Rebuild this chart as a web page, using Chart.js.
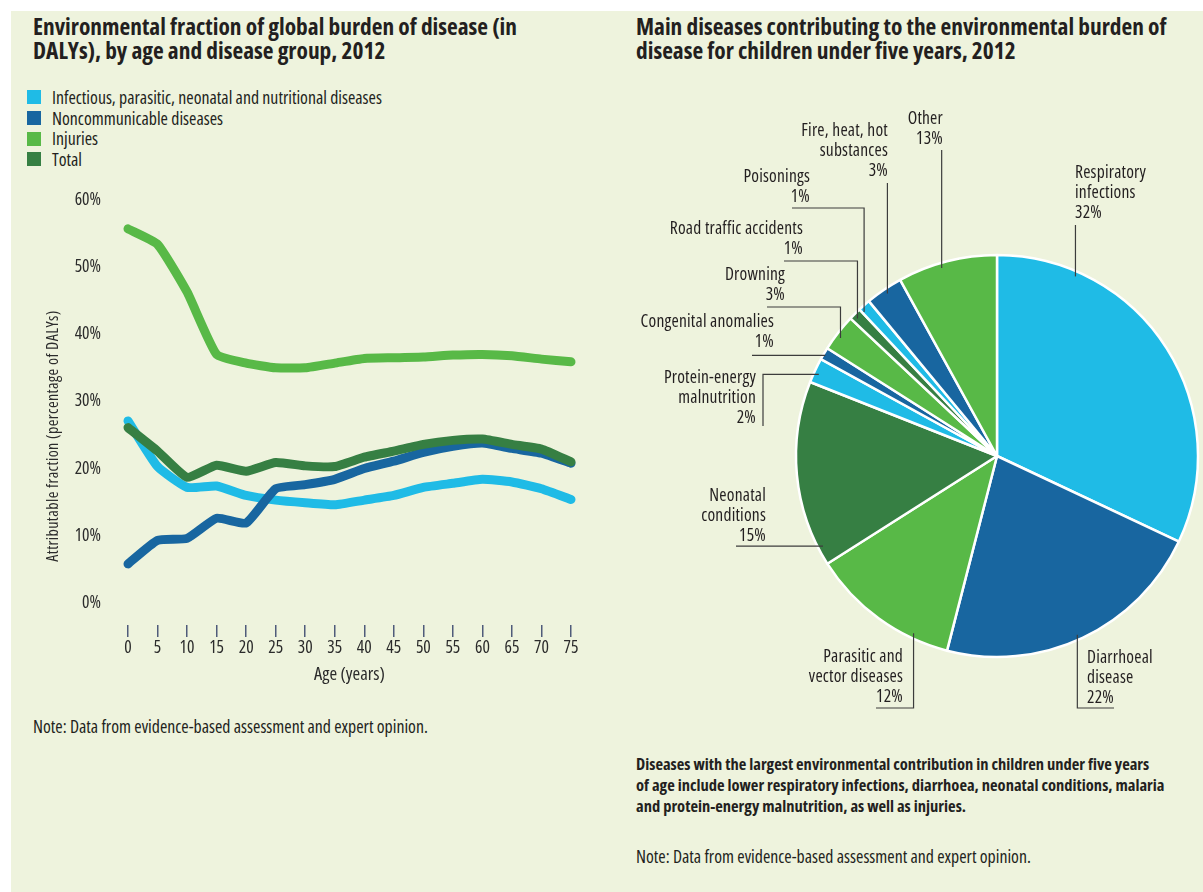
<!DOCTYPE html>
<html>
<head>
<meta charset="utf-8">
<script src="https://cdn.jsdelivr.net/npm/chart.js@4.4.1/dist/chart.umd.min.js"></script>
<style>
  body { margin: 0; background: #fff; width: 1203px; height: 892px; overflow: hidden; position: relative;
         font-family: "Open Sans", sans-serif; font-stretch: condensed; color: #231f20; }
  #page { position: absolute; left: 11px; top: 11px; width: 1192px; height: 881px; background: #eef3dd; }
  .title { position: absolute; top: 14px; font-weight: bold; font-size: 23.4px; line-height: 24px; white-space: nowrap; }
  .legend { position: absolute; left: 27px; top: 87px; font-size: 17.8px; }
  .legend div { height: 20.7px; line-height: 20.7px; display: flex; align-items: center; white-space: nowrap; }
  .legend span { display: inline-block; width: 14px; height: 14px; margin-right: 11px; }
  .note { position: absolute; font-size: 17.8px; white-space: nowrap; line-height: 20px; }
  .para { position: absolute; left: 636px; top: 753px; font-weight: bold; font-size: 16.5px; line-height: 21px; white-space: nowrap; }
  canvas { position: absolute; }
</style>
</head>
<body>
<div id="page"></div>
<div class="title" style="left:33px">Environmental fraction of global burden of disease (in<br>DALYs), by age and disease group, 2012</div>
<div class="title" style="left:636px">Main diseases contributing to the environmental burden of<br>disease for children under five years, 2012</div>
<div class="legend" id="legend"></div>
<canvas id="lineChart" width="600" height="520" style="left:11px; top:180px"></canvas>
<div class="note" style="left:33px; top:716px">Note: Data from evidence-based assessment and expert opinion.</div>
<canvas id="pieChart" width="573" height="640" style="left:630px; top:100px"></canvas>
<div class="para">Diseases with the largest environmental contribution in children under five years<br>of age include lower respiratory infections, diarrhoea, neonatal conditions, malaria<br>and protein-energy malnutrition, as well as injuries.</div>
<div class="note" style="left:636px; top:846px">Note: Data from evidence-based assessment and expert opinion.</div>
<script>
// Données
const ages = ['0', '5', '10', '15', '20', '25', '30', '35', '40', '45', '50', '55', '60', '65', '70', '75'];
const yTicks = [0, 10, 20, 30, 40, 50, 60];
const seriesNames = ['Infectious, parasitic, neonatal and nutritional diseases', 'Noncommunicable diseases', 'Injuries', 'Total'];
const infectious = [27.1, 20.3, 17.2, 17.4, 16.0, 15.3, 14.9, 14.6, 15.3, 16.0, 17.2, 17.8, 18.4, 18.0, 17.0, 15.4];
const noncommunicable = [5.8, 9.3, 9.6, 12.6, 11.9, 17.0, 17.6, 18.4, 20.0, 21.1, 22.4, 23.3, 23.8, 23.0, 22.3, 20.8];
const injuries = [55.7, 53.4, 46.3, 37.0, 35.7, 35.0, 35.0, 35.7, 36.4, 36.5, 36.6, 36.9, 37.0, 36.8, 36.3, 35.9];
const total = [26.1, 22.6, 18.7, 20.5, 19.6, 20.9, 20.4, 20.3, 21.7, 22.6, 23.6, 24.2, 24.4, 23.6, 22.9, 21.0];

const sliceNames = [
    ['Respiratory', 'infections'], ['Diarrhoeal', 'disease'], ['Parasitic and', 'vector diseases'],
    ['Neonatal', 'conditions'], ['Protein-energy', 'malnutrition'], ['Congenital anomalies'],
    ['Drowning'], ['Road traffic accidents'], ['Poisonings'], ['Fire, heat, hot', 'substances'], ['Other']
];
const sliceValues = [32, 22, 12, 15, 2, 1, 3, 1, 1, 3, 8]; // taille des parts telle que dessinée
const pctLabels = ['32%', '22%', '12%', '15%', '2%', '1%', '3%', '1%', '1%', '3%', '13%'];

const FONT = '"Open Sans", sans-serif';
const LIGHT_BLUE = '#1fbbe6', DARK_BLUE = '#1866a0', GREEN = '#58b947', DARK_GREEN = '#367f43';
const seriesColors = [LIGHT_BLUE, DARK_BLUE, GREEN, DARK_GREEN];
const sliceColors = [LIGHT_BLUE, DARK_BLUE, GREEN, DARK_GREEN, LIGHT_BLUE, DARK_BLUE, GREEN, DARK_GREEN, LIGHT_BLUE, DARK_BLUE, GREEN];

Chart.defaults.font.family = FONT;
Chart.defaults.font.size = 17.5;
Chart.defaults.font.weight = 'condensed'; // passe dans la chaîne CSS du canvas -> police étroite
Chart.defaults.color = '#2b2b2b';
Chart.defaults.animation = false;

// Légende HTML
document.getElementById('legend').innerHTML = seriesNames.map((n, i) =>
    `<div><span style="background:${seriesColors[i]}"></span>${n}</div>`).join('');

// Titre de l'axe Y (dessiné à la main pour le placer comme l'original)
const yTitle = {
    id: 'yTitle',
    afterDraw(chart) {
        const ctx = chart.ctx;
        ctx.save();
        ctx.translate(42, 256);
        ctx.rotate(-Math.PI / 2);
        ctx.font = 'condensed 16px ' + FONT;
        ctx.letterSpacing = '0.4px';
        ctx.fillStyle = '#2b2b2b';
        ctx.textAlign = 'center';
        ctx.textBaseline = 'middle';
        ctx.fillText('Attributable fraction (percentage of DALYs)', 0, 0);
        ctx.restore();
    }
};

const lineData = [infectious, noncommunicable, injuries, total];
new Chart(document.getElementById('lineChart'), {
    type: 'line',
    data: {
        labels: ages,
        datasets: lineData.map((d, i) => ({
            label: seriesNames[i],
            data: d,
            borderColor: seriesColors[i],
            borderWidth: 9,
            borderCapStyle: 'round',
            borderJoinStyle: 'round',
            pointRadius: 0,
            tension: 0.15,
            clip: 8,
            order: 4 - i
        }))
    },
    options: {
        responsive: false,
        layout: { padding: { left: 0, right: 40, top: 20, bottom: 14 } },
        plugins: { legend: { display: false }, tooltip: { enabled: false } },
        scales: {
            x: {
                offset: false,
                border: { display: false },
                grid: { drawOnChartArea: false, drawTicks: true, tickLength: 12, color: '#4f5b7a', lineWidth: 1.5 },
                ticks: { padding: 1, maxRotation: 0, autoSkip: false },
                title: { display: true, text: 'Age (years)', padding: 0, font: { size: 18.5 } },
                afterFit(s) { s.height = 61; }
            },
            y: {
                min: -3.3,
                max: 60,
                border: { display: false },
                grid: { display: false, drawTicks: false },
                ticks: { padding: 27, callback: v => v + '%' },
                afterBuildTicks(s) { s.ticks = yTicks.map(v => ({ value: v })); },
                afterFit(s) { s.width = 117; s.paddingTop = 0; s.paddingBottom = 0; }
            }
        }
    },
    plugins: [yTitle]
});

// Étiquettes du camembert avec traits de rappel (coordonnées page)
const OX = 630, OY = 100;
const calloutPos = [
    { deg: 23.6, x: 1075, y: 173, align: 'left', path: [['v', 225]] },
    { deg: 155.8, x: 1087, y: 658, align: 'left', path: [['v', 708], ['h', 1114]] },
    { deg: 205.2, x: 903, y: 657, align: 'right', path: [['v', 708], ['h', 876]] },
    { deg: 242.6, x: 766, y: 496, align: 'right', path: [['h', 736]] },
    { deg: 294.6, x: 756, y: 378, align: 'right', path: [['h', 763], ['v', 426]] },
    { deg: 300.4, k: 0.99, x: 774, y: 322, align: 'right', path: [['h', 752]] },
    { deg: 307, x: 785, y: 275, align: 'right', path: [['v', 307], ['h', 767]] },
    { deg: 314.6, x: 803, y: 229, align: 'right', path: [['v', 261], ['h', 784]] },
    { deg: 317.3, x: 810, y: 177, align: 'right', path: [['v', 208], ['h', 792]] },
    { deg: 326, x: 888, y: 131, align: 'right', path: [['v', 183]] },
    { deg: 343.6, x: 943, y: 119, align: 'right', path: [['v', 150]] }
];

const callouts = {
    id: 'callouts',
    afterDatasetsDraw(chart) {
        const ctx = chart.ctx;
        const arc = chart.getDatasetMeta(0).data[0];
        const cx = arc.x, cy = arc.y, r = arc.outerRadius;
        ctx.save();
        ctx.font = 'condensed 17.5px ' + FONT;
        ctx.letterSpacing = '0.2px';
        ctx.fillStyle = '#231f20';
        ctx.strokeStyle = '#3c3c3c';
        ctx.lineWidth = 1.2;
        calloutPos.forEach((p, i) => {
            const a = p.deg * Math.PI / 180;
            const k = p.k || 0.975;
            let x = cx + Math.sin(a) * r * k, y = cy - Math.cos(a) * r * k;
            ctx.beginPath();
            ctx.moveTo(x, y);
            p.path.forEach(([d, v]) => {
                if (d === 'v') y = v - OY; else x = v - OX;
                ctx.lineTo(x, y);
            });
            ctx.stroke();
            const lines = sliceNames[i].concat(pctLabels[i]);
            ctx.textAlign = p.align;
            ctx.textBaseline = 'middle';
            lines.forEach((t, j) => ctx.fillText(t, p.x - OX, p.y - OY + j * 20));
        });
        ctx.restore();
    }
};

new Chart(document.getElementById('pieChart'), {
    type: 'pie',
    data: {
        labels: sliceNames.map(n => n.join(' ')),
        datasets: [{
            data: sliceValues,
            backgroundColor: sliceColors,
            borderColor: '#ffffff',
            borderWidth: 2.5,
            radius: 201
        }]
    },
    options: {
        responsive: false,
        layout: { padding: { left: 161, top: 72, right: 0, bottom: 0 } },
        plugins: { legend: { display: false }, tooltip: { enabled: false } }
    },
    plugins: [callouts]
});
</script>
</body>
</html>
